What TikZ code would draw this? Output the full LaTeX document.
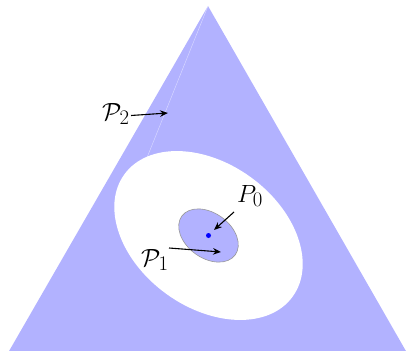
\documentclass[tikz,border=0pt]{standalone}
\usetikzlibrary{arrows.meta}
\begin{document}
\begin{tikzpicture}[x=1pt,y=-1pt,
  region/.style={fill=blue!30},
  hole/.style={fill=white},
  lbl/.style={font=\fontsize{24.88}{30}\selectfont, inner sep=0pt, anchor=base west},
  pointer/.style={-{Stealth[length=8pt,width=6.5pt]}, line width=1.1pt},
  seam/.style={draw=white, opacity=0.55, line width=0.4pt}]
\useasboundingbox (0,0) rectangle (406,350);
\clip (0,0) rectangle (406,350);
\coordinate (c) at (208.5,235.5);
\coordinate (apex) at (208,6);
\coordinate (bl) at (8.5,352);
\coordinate (br) at (406.5,352);
\fill[region] (apex) -- (bl) -- (br) -- cycle;
\coordinate (seamend) at (140,175);
\draw[seam] (apex) -- (seamend);
\fill[hole, rotate around={-36:(c)}] (c) ellipse [x radius=104, y radius=72];
\filldraw[region, draw=gray!80, line width=0.6pt, rotate around={-36:(c)}] (c) ellipse [x radius=33, y radius=22.5];
\fill[blue] (c) circle (2.5);
\node[lbl] (p2) at (102,120) {$\mathcal{P}_2$};
\node[lbl] (p0) at (237,202) {$P_0$};
\node[lbl] (p1) at (141,266) {$\mathcal{P}_1$};
\coordinate (s2) at (131,115.5);
\coordinate (t2) at (168,113);
\coordinate (s0) at (234,212);
\coordinate (t0) at (214,230);
\coordinate (s1) at (169,248);
\coordinate (t1) at (221,252);
\draw[pointer] (s2) -- (t2);
\draw[pointer] (s0) -- (t0);
\draw[pointer] (s1) -- (t1);
\end{tikzpicture}
\end{document}
